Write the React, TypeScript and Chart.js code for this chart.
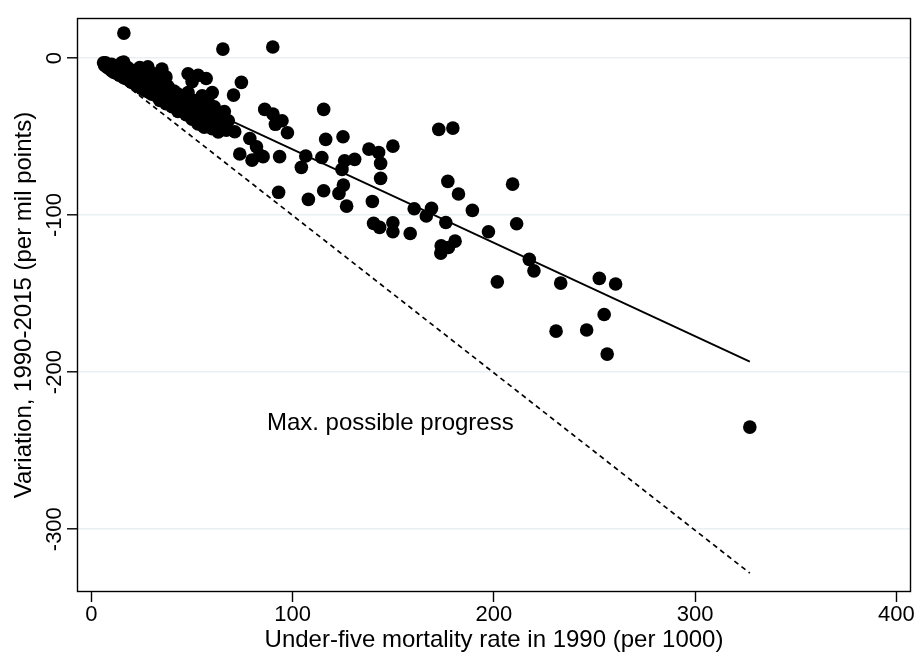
import React, { useEffect, useRef } from "react";
import { Chart, registerables } from "chart.js";

Chart.register(...registerables);

// Under-five mortality rate in 1990 (per 1000) for each country
const U5MR_1990 = [
  6, 6.5, 7, 7, 8, 8, 9, 9, 10, 10,
  11, 11, 12, 12, 13, 13, 14, 14, 15, 15,
  16, 16, 17, 17, 18, 18, 19, 20, 20, 21,
  21, 22, 23, 23, 24, 24, 25, 26, 26, 27,
  28, 28, 29, 30, 30, 31, 32, 33, 34, 34,
  35, 36, 37, 37, 38, 39, 40, 41, 42, 43,
  43, 44, 45, 46, 47, 48, 48, 49, 50, 50,
  51, 52, 53, 53, 54, 55, 55, 56, 57, 57,
  58, 58, 59, 60, 60, 61, 62, 63, 64, 65,
  66, 67, 68,
  16.1, 65.3, 90.1, 172.6, 179.6, 177.1, 182.4, 189.3, 209.3, 211.3,
  169, 166.4, 176.1, 197.3, 180.7, 173.8, 177.4, 173.6, 217.6, 219.9,
  201.7, 233.2, 252.4, 260.5, 254.8, 230.9, 246.1, 256.3, 327.2, 115.4,
  116.4, 125, 106.5, 104.3, 114.5, 137.9, 142.7, 149.8, 143.7, 125.8,
  130.8, 124.5, 143.7, 125.2, 123, 115.4, 107.8, 126.8, 139.6, 160.4,
  140.2, 143.2, 149.8, 149.8, 158.4, 74.5, 70.6, 86.1, 90.2, 94.7,
  91.4, 97.4, 71.2, 78.7, 82, 83.6, 73.7, 79.8, 85.3, 93.5,
  93,
];

// Variation 1990-2015 (per mil points) for each country
const VARIATION = [
  -3, -4.5, -3, -5, -4, -6, -5, -7, -4, -8,
  -6, -9, -7, -9.5, -5, -10, -8, -11, -3, -10,
  -2.5, -12.5, -9, -13, -6, -11, -14.5, -10, -15.5, -8,
  -13, -17, -12, -18, -6, -15, -19.5, -11, -18, -21,
  -5.5, -14, -22, -17, -23, -10, -20, -25, -15, -27,
  -7, -22, -12, -29, -18, -25, -31, -21, -28, -23,
  -34, -30, -26, -32, -36, -10, -22, -32, -15, -39,
  -27, -35, -11, -42, -30, -24, -39, -44, -13, -33,
  -28, -41, -36, -22, -45, -31, -40, -47, -37, -43,
  -34, -46, -40,
  15.9, 5.7, 7.0, -45.4, -44.6, -78.5, -86.6, -97.0, -80.3, -105.5,
  -95.7, -100.6, -104.7, -110.6, -116.6, -119.5, -120.6, -124.2, -128.2, -135.5,
  -142.5, -143.3, -140.3, -143.9, -163.3, -173.9, -173.2, -188.5, -235, -32.7,
  -51.8, -50.1, -62.4, -69.6, -63.3, -58, -60.1, -56.1, -67.1, -65.4,
  -64.5, -70.9, -76.6, -80.9, -86.2, -84.5, -90, -94.3, -91.3, -96,
  -105.3, -107.8, -104.9, -110.6, -111.7, -15.5, -23.6, -32.7, -35.7, -39.9,
  -42.2, -47.6, -46.9, -51.2, -56.5, -61.8, -61.1, -65, -62.8, -62.8,
  -85.5,
];

// Fitted line end points
const FIT_X = [6, 327.2];
const FIT_Y = [-2.3, -193.3];

// Max possible progress line (variation = -rate)
const MAX_X = [6, 327.2];
const MAX_Y = [-6, -328];

const X_TICKS = [0, 100, 200, 300, 400];
const Y_TICKS = [0, -100, -200, -300];
const X_MIN = -7.2;
const X_MAX = 407.3;
const Y_MIN = -340;
const Y_MAX = 25.5;

const X_TITLE = "Under-five mortality rate in 1990 (per 1000)";
const Y_TITLE = "Variation, 1990-2015 (per mil points)";
const NOTE_TEXT = "Max. possible progress";
const NOTE_X = 148.5;
const NOTE_Y = -237;

const FAMILY = "'Liberation Sans', Arial, Helvetica, sans-serif";
const FONT = `24px ${FAMILY}`;
const TICK_FONT = `22px ${FAMILY}`;

const decorPlugin = {
  id: "decor",
  afterDraw(chart: any) {
    const ctx = chart.ctx;
    const { left, right, top, bottom } = chart.chartArea;
    const xs = chart.scales.x;
    const ys = chart.scales.y;
    ctx.save();
    // frame
    ctx.strokeStyle = "#000";
    ctx.lineWidth = 1.4;
    ctx.strokeRect(left + 0.5, top + 0.5, right - left - 1, bottom - top - 1);

    ctx.fillStyle = "#000";
    ctx.textAlign = "center";
    ctx.textBaseline = "alphabetic";
    // x tick labels
    ctx.font = TICK_FONT;
    X_TICKS.forEach((v) => {
      ctx.fillText(String(v), xs.getPixelForValue(v), bottom + 29);
    });
    // y tick labels (rotated)
    Y_TICKS.forEach((v) => {
      ctx.save();
      ctx.translate(left - 16, ys.getPixelForValue(v));
      ctx.rotate(-Math.PI / 2);
      ctx.textAlign = "center";
      ctx.fillText(String(v), 0, 0);
      ctx.restore();
    });

    ctx.font = FONT;
    // x title
    ctx.fillText(X_TITLE, (left + right) / 2, bottom + 55);
    // note
    ctx.fillText(NOTE_TEXT, xs.getPixelForValue(NOTE_X), ys.getPixelForValue(NOTE_Y));
    // y title
    ctx.save();
    ctx.translate(31, (top + bottom) / 2);
    ctx.rotate(-Math.PI / 2);
    ctx.textAlign = "center";
    ctx.fillText(Y_TITLE, 0, 0);
    ctx.restore();

    ctx.restore();
  },
};

export default function App() {
  const canvasRef = useRef<HTMLCanvasElement | null>(null);

  useEffect(() => {
    if (!canvasRef.current) return;
    const points = U5MR_1990.map((x, i) => ({ x, y: VARIATION[i] }));
    const fit = FIT_X.map((x, i) => ({ x, y: FIT_Y[i] }));
    const maxp = MAX_X.map((x, i) => ({ x, y: MAX_Y[i] }));

    const chart = new Chart(canvasRef.current, {
      type: "scatter",
      data: {
        datasets: [
          {
            label: "Countries",
            data: points,
            pointRadius: 6.8,
            pointHoverRadius: 6.8,
            backgroundColor: "#000",
            borderColor: "#000",
            borderWidth: 0,
            showLine: false,
          },
          {
            label: "Fitted values",
            data: fit,
            showLine: true,
            pointRadius: 0,
            borderColor: "#000",
            borderWidth: 1.8,
            fill: false,
          },
          {
            label: "Max. possible progress",
            data: maxp,
            showLine: true,
            pointRadius: 0,
            borderColor: "#000",
            borderWidth: 1.7,
            borderDash: [5, 4],
            fill: false,
          },
        ],
      },
      options: {
        responsive: false,
        animation: false,
        events: [],
        layout: { padding: { top: 18, right: 3, left: 0, bottom: 0 }, autoPadding: false },
        plugins: {
          legend: { display: false },
          tooltip: { enabled: false },
        },
        scales: {
          x: {
            type: "linear",
            min: X_MIN,
            max: X_MAX,
            afterBuildTicks: (scale: any) => {
              scale.ticks = X_TICKS.map((v) => ({ value: v }));
            },
            afterFit: (scale: any) => {
              scale.height = 62;
              scale.paddingLeft = 0;
              scale.paddingRight = 0;
            },
            ticks: { display: false },
            border: { display: false },
            grid: {
              display: true,
              drawOnChartArea: false,
              drawTicks: true,
              tickLength: 10,
              tickColor: "#000",
              tickWidth: 1.4,
            },
          },
          y: {
            type: "linear",
            min: Y_MIN,
            max: Y_MAX,
            afterBuildTicks: (scale: any) => {
              scale.ticks = Y_TICKS.map((v) => ({ value: v }));
            },
            afterFit: (scale: any) => {
              scale.width = 77;
              scale.paddingTop = 0;
              scale.paddingBottom = 0;
            },
            ticks: { display: false },
            border: { display: false },
            grid: {
              display: true,
              drawOnChartArea: true,
              color: "#e9f0f2",
              lineWidth: 1.6,
              drawTicks: true,
              tickLength: 10,
              tickColor: "#000",
              tickWidth: 1.4,
            },
          },
        },
      },
      plugins: [decorPlugin],
    });
    return () => chart.destroy();
  }, []);

  return (
    <div style={{ position: "absolute", left: 0, top: 0, width: 914, height: 654, background: "#fff" }}>
      <canvas ref={canvasRef} width={914} height={654} />
    </div>
  );
}
